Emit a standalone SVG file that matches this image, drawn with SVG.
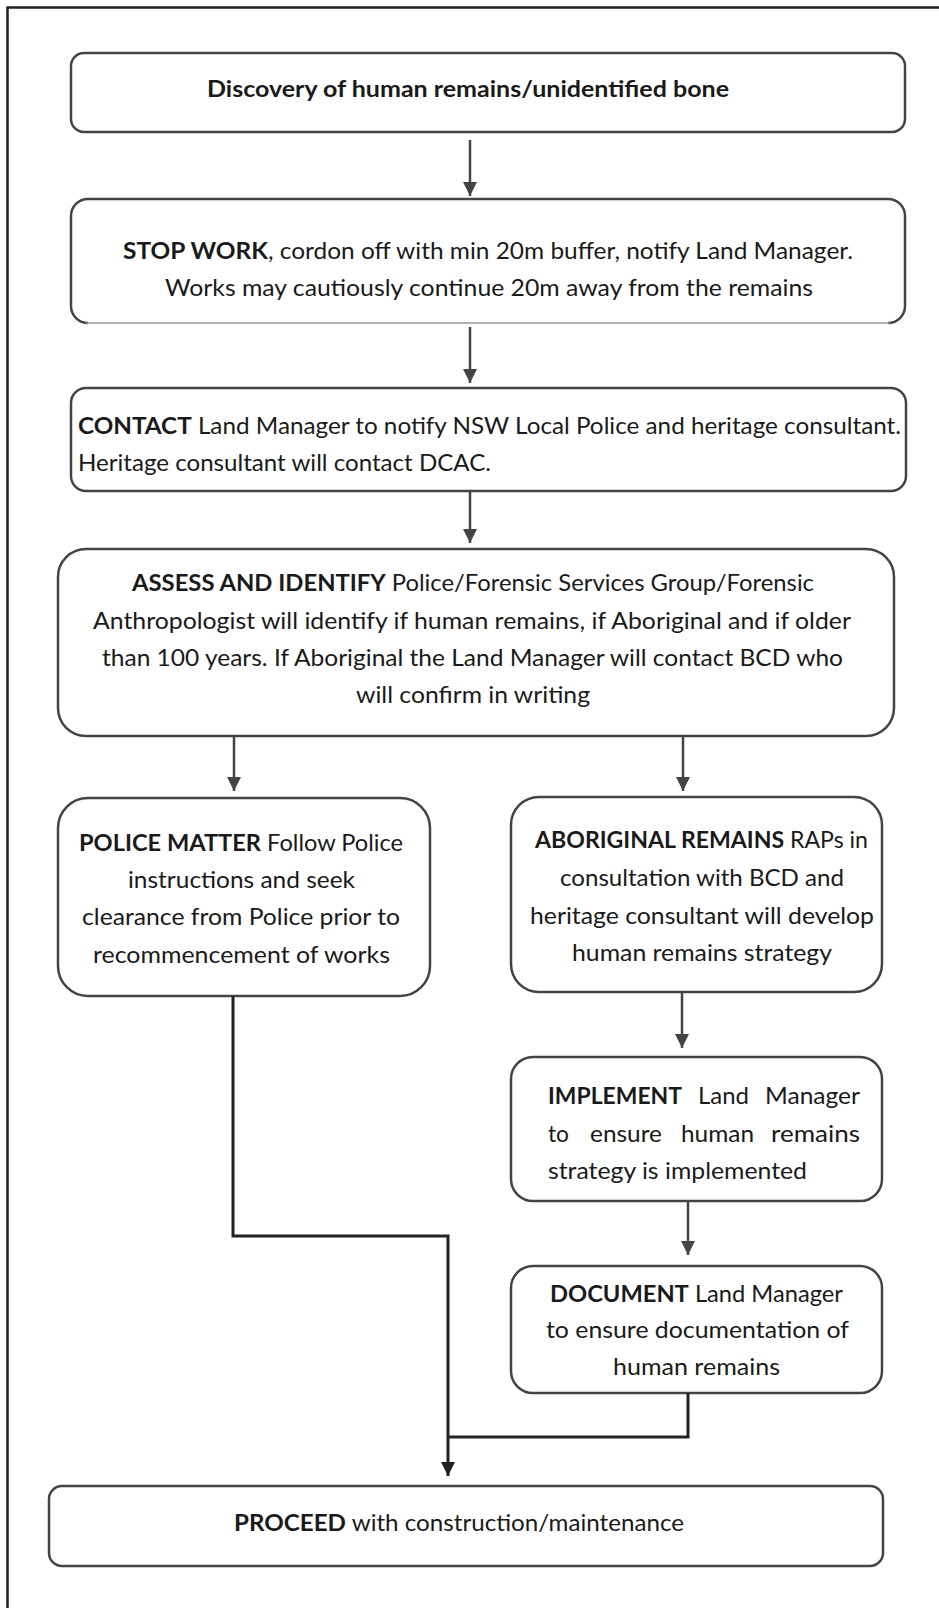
<svg xmlns="http://www.w3.org/2000/svg" width="939" height="1608" viewBox="0 0 939 1608">
<style>
.box{fill:#fff;stroke:#444;stroke-width:2.5}
.t{font-family:Lato,"Liberation Sans",sans-serif;font-size:23px;fill:#1a1a1a}
.b{font-weight:bold}
.c{text-anchor:middle}
.con{fill:none;stroke:#444;stroke-width:2.5}
.dark{fill:none;stroke:#222;stroke-width:3}
</style>
<defs>
<marker id="ah" viewBox="0 0 14 14" refX="14" refY="7" markerWidth="14" markerHeight="14" markerUnits="userSpaceOnUse" orient="auto">
<path d="M0,0 L14,7 L0,14 Z" fill="#444"/>
</marker>
<marker id="ahd" viewBox="0 0 14 14" refX="14" refY="7" markerWidth="14" markerHeight="14" markerUnits="userSpaceOnUse" orient="auto">
<path d="M0,0 L14,7 L0,14 Z" fill="#222"/>
</marker>
</defs>
<rect width="939" height="1608" fill="#fff"/>
<path d="M7.5,1610 V7.5 H941" fill="none" stroke="#222" stroke-width="2.5"/>

<g id="n1">
<rect class="box" x="71" y="53" width="834" height="79" rx="13"/>
<text class="t b" x="207" y="97" textLength="522" lengthAdjust="spacingAndGlyphs">Discovery of human remains/unidentified bone</text>
</g>
<g id="n2">
<rect x="71" y="199" width="834" height="124" rx="17" fill="#fff"/>
<path d="M88,323 A17,17 0 0 1 71,306 V216 A17,17 0 0 1 88,199 H888 A17,17 0 0 1 905,216 V306 A17,17 0 0 1 888,323" fill="none" stroke="#444" stroke-width="2.5"/>
<line x1="86" y1="323" x2="890" y2="323" stroke="#999" stroke-width="1.5"/>
<text class="t" x="123" y="259" textLength="730" lengthAdjust="spacingAndGlyphs"><tspan class="b">STOP WORK</tspan>, cordon off with min 20m buffer, notify Land Manager.</text>
<text class="t" x="165" y="296" textLength="648" lengthAdjust="spacingAndGlyphs">Works may cautiously continue 20m away from the remains</text>
</g>
<g id="n3">
<rect class="box" x="71" y="388" width="835" height="103" rx="15"/>
<text class="t" x="78" y="434" textLength="823" lengthAdjust="spacingAndGlyphs"><tspan class="b">CONTACT</tspan> Land Manager to notify NSW Local Police and heritage consultant.</text>
<text class="t" x="78" y="471" textLength="413" lengthAdjust="spacingAndGlyphs">Heritage consultant will contact DCAC.</text>
</g>
<g id="n4">
<rect class="box" x="58" y="549" width="836" height="187" rx="28"/>
<text class="t" x="132" y="591" textLength="682" lengthAdjust="spacingAndGlyphs"><tspan class="b">ASSESS AND IDENTIFY</tspan> Police/Forensic Services Group/Forensic</text>
<text class="t" x="93" y="629" textLength="758" lengthAdjust="spacingAndGlyphs">Anthropologist will identify if human remains, if Aboriginal and if older</text>
<text class="t" x="102" y="666" textLength="741" lengthAdjust="spacingAndGlyphs">than 100 years. If Aboriginal the Land Manager will contact BCD who</text>
<text class="t" x="356" y="703" textLength="234" lengthAdjust="spacingAndGlyphs">will confirm in writing</text>
</g>
<g id="n5">
<rect class="box" x="58" y="798" width="372" height="198" rx="30"/>
<text class="t" x="79" y="851" textLength="324" lengthAdjust="spacingAndGlyphs"><tspan class="b">POLICE MATTER</tspan> Follow Police</text>
<text class="t" x="128" y="888" textLength="227" lengthAdjust="spacingAndGlyphs">instructions and seek</text>
<text class="t" x="82" y="925" textLength="318" lengthAdjust="spacingAndGlyphs">clearance from Police prior to</text>
<text class="t" x="93" y="963" textLength="297" lengthAdjust="spacingAndGlyphs">recommencement of works</text>
</g>
<g id="n6">
<rect class="box" x="511" y="797" width="371" height="195" rx="28"/>
<text class="t" x="535" y="848" textLength="333" lengthAdjust="spacingAndGlyphs"><tspan class="b">ABORIGINAL REMAINS</tspan> RAPs in</text>
<text class="t" x="560" y="886" textLength="284" lengthAdjust="spacingAndGlyphs">consultation with BCD and</text>
<text class="t" x="530" y="924" textLength="344" lengthAdjust="spacingAndGlyphs">heritage consultant will develop</text>
<text class="t" x="572" y="961" textLength="260" lengthAdjust="spacingAndGlyphs">human remains strategy</text>
</g>
<g id="n7">
<rect class="box" x="511" y="1057" width="371" height="144" rx="22"/>
<text class="t b" x="548" y="1104" textLength="134" lengthAdjust="spacingAndGlyphs">IMPLEMENT</text>
<text class="t" x="698" y="1104" textLength="51" lengthAdjust="spacingAndGlyphs">Land</text>
<text class="t" x="765" y="1104" textLength="95" lengthAdjust="spacingAndGlyphs">Manager</text>
<text class="t" x="548" y="1142" textLength="21" lengthAdjust="spacingAndGlyphs">to</text>
<text class="t" x="590" y="1142" textLength="72" lengthAdjust="spacingAndGlyphs">ensure</text>
<text class="t" x="681" y="1142" textLength="73" lengthAdjust="spacingAndGlyphs">human</text>
<text class="t" x="771" y="1142" textLength="89" lengthAdjust="spacingAndGlyphs">remains</text>
<text class="t" x="548" y="1179" textLength="259" lengthAdjust="spacingAndGlyphs">strategy is implemented</text>
</g>
<g id="n8">
<rect class="box" x="511" y="1266" width="371" height="127" rx="22"/>
<text class="t" x="550" y="1302" textLength="293" lengthAdjust="spacingAndGlyphs"><tspan class="b">DOCUMENT</tspan> Land Manager</text>
<text class="t" x="546" y="1338" textLength="303" lengthAdjust="spacingAndGlyphs">to ensure documentation of</text>
<text class="t" x="613" y="1375" textLength="167" lengthAdjust="spacingAndGlyphs">human remains</text>
</g>
<g id="n9">
<rect class="box" x="49" y="1486" width="834" height="80" rx="13"/>
<text class="t" x="234" y="1531" textLength="450" lengthAdjust="spacingAndGlyphs"><tspan class="b">PROCEED</tspan> with construction/maintenance</text>
</g>

<g id="connectors">
<line class="con" x1="470" y1="140" x2="470" y2="196" marker-end="url(#ah)"/>
<line class="con" x1="470" y1="327" x2="470" y2="383" marker-end="url(#ah)"/>
<line class="con" x1="470" y1="491" x2="470" y2="543" marker-end="url(#ah)"/>
<line class="con" x1="234" y1="736" x2="234" y2="791" marker-end="url(#ah)"/>
<line class="con" x1="683" y1="736" x2="683" y2="791" marker-end="url(#ah)"/>
<line class="con" x1="682" y1="992" x2="682" y2="1048" marker-end="url(#ah)"/>
<line class="con" x1="688" y1="1201" x2="688" y2="1255" marker-end="url(#ah)"/>
<polyline class="dark" points="233,996 233,1236 448,1236 448,1476" marker-end="url(#ahd)"/>
<polyline class="dark" points="688,1393 688,1437 448,1437"/>
</g>
</svg>
